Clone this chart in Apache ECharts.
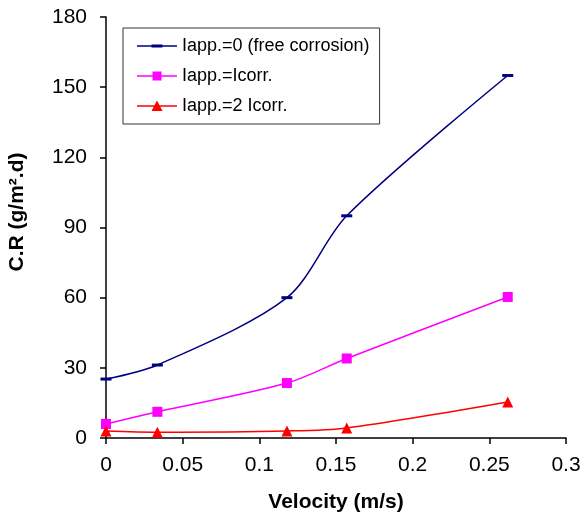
<!DOCTYPE html>
<html>
<head>
<meta charset="utf-8">
<script src="https://cdn.jsdelivr.net/npm/echarts@6/dist/echarts.min.js"></script>
<style>html,body{margin:0;padding:0;background:#fff}#c{width:582px;height:519px}</style>
</head>
<body>
<div id="c"></div>
<script>
const velocity = [0, 0.0335, 0.118, 0.157, 0.262];
const seriesNames = ['Iapp.=0 (free corrosion)', 'Iapp.=Icorr.', 'Iapp.=2 Icorr.'];
const crFree = [25.2, 31.2, 60, 95, 155];
const crIcorr = [6, 11.2, 23.5, 34, 60.3];
const cr2Icorr = [3, 2.5, 3, 4.3, 15.4];
const yTicks = [0, 30, 60, 90, 120, 150, 180];
const xTicks = [0, 0.05, 0.1, 0.15, 0.2, 0.25, 0.3];
const xTitle = 'Velocity (m/s)';
const yTitle = 'C.R (g/m\u00B2.d)';

const pair = (vals) => velocity.map((v, i) => [v, vals[i]]);
const font = 'Liberation Sans, Arial, sans-serif';
const box = 'M0,0L0,0M40,12L40,12';
const lineBar = 'M0,5.25H40V6.75H0Z';
const icons = [
  'path://' + box + lineBar + 'M14.5,4.5H25.5V7.5H14.5Z',
  'path://' + box + lineBar + 'M15.5,1.5H24.5V10.5H15.5Z',
  'path://' + box + lineBar + 'M20,0.5L25.5,11H14.5Z'
];

const chart = echarts.init(document.getElementById('c'), null, {renderer: 'canvas'});
chart.setOption({
  animation: false,
  backgroundColor: '#fff',
  grid: {left: 106, right: 16, top: 17, bottom: 81, containLabel: false, outerBoundsMode: 'none'},
  legend: {
    orient: 'vertical',
    left: 123, top: 28,
    width: 256,
    padding: [9, 10, 9, 14],
    itemGap: 12,
    itemWidth: 40, itemHeight: 12,
    borderColor: '#333', borderWidth: 1,
    backgroundColor: '#fff',
    textStyle: {fontFamily: font, fontSize: 18, color: '#000'},
    data: seriesNames.map((n, i) => ({name: n, icon: icons[i]}))
  },
  graphic: [{
    type: 'text',
    x: 17, y: 212, rotation: Math.PI / 2,
    style: {text: yTitle, fontFamily: font, fontSize: 21, fontWeight: 'bold', fill: '#000',
      align: 'center', verticalAlign: 'middle'}
  }],
  xAxis: {
    type: 'value', min: xTicks[0], max: xTicks[xTicks.length - 1], interval: 0.05,
    name: xTitle, nameLocation: 'middle', nameGap: 54,
    nameTextStyle: {fontFamily: font, fontSize: 21, fontWeight: 'bold', color: '#000'},
    axisLine: {lineStyle: {color: '#000', width: 1.5}},
    axisTick: {show: true, inside: false, length: 6, lineStyle: {color: '#000', width: 1.5}},
    axisLabel: {fontFamily: font, fontSize: 21, color: '#000', margin: 17,
      formatter: v => String(parseFloat(v.toFixed(2)))},
    splitLine: {show: false}
  },
  yAxis: {
    type: 'value', min: yTicks[0], max: yTicks[yTicks.length - 1], interval: 30,
    axisLine: {show: true, lineStyle: {color: '#000', width: 1.5}},
    axisTick: {show: true, inside: false, length: 6, lineStyle: {color: '#000', width: 1.5}},
    axisLabel: {fontFamily: font, fontSize: 21, color: '#000', margin: 19},
    splitLine: {show: false}
  },
  series: [
    {name: seriesNames[0], type: 'line', data: pair(crFree), smooth: 0.3,
     color: '#000080', lineStyle: {width: 1.5, color: '#000080'},
     symbol: 'rect', symbolSize: [11, 3], itemStyle: {color: '#000080'}},
    {name: seriesNames[1], type: 'line', data: pair(crIcorr), smooth: 0.3,
     color: '#FF00FF', lineStyle: {width: 1.5, color: '#FF00FF'},
     symbol: 'rect', symbolSize: 10, itemStyle: {color: '#FF00FF'}},
    {name: seriesNames[2], type: 'line', data: pair(cr2Icorr), smooth: 0.3,
     color: '#FF0000', lineStyle: {width: 1.5, color: '#FF0000'},
     symbol: 'triangle', symbolSize: 11, itemStyle: {color: '#FF0000'}}
  ]
});
</script>
</body>
</html>
